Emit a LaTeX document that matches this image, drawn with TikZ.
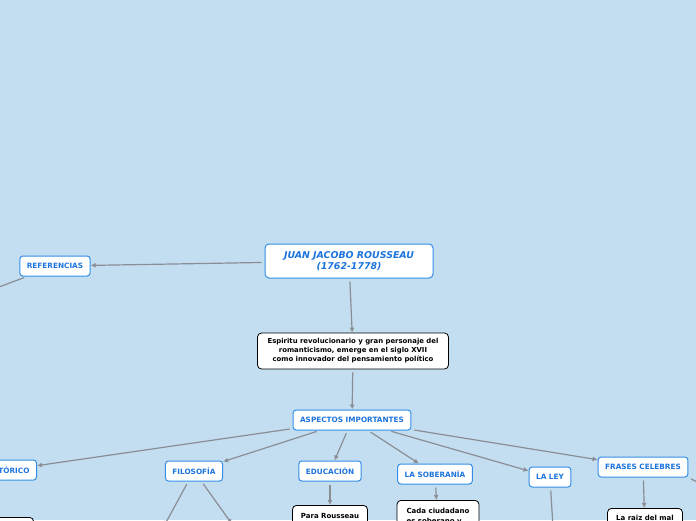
\documentclass[tikz,border=0pt]{standalone}
\usepackage{fontspec}
\setmainfont{DejaVu Sans}
\usetikzlibrary{arrows.meta, positioning}
\definecolor{mapbg}{RGB}{195,222,241}
\definecolor{mapblue}{RGB}{28,116,222}
\definecolor{mapborder}{RGB}{52,142,232}
\definecolor{mapline}{RGB}{138,142,148}

\begin{document}
\begin{tikzpicture}[x=1pt, y=-1pt,
    topicblock/.style={rectangle, draw=mapborder, line width=1pt, fill=white, rounded corners=3pt, minimum height=20pt, inner xsep=7pt, font=\bfseries\fontsize{7.3}{8.5}\selectfont, text=mapblue},
    mainblock/.style={rectangle, draw=mapborder, line width=1pt, fill=white, rounded corners=4pt, minimum width=168pt, minimum height=34pt, font=\bfseries\itshape\fontsize{9.4}{11.5}\selectfont, text=mapblue, align=center},
    noteblock/.style={rectangle, draw=black, line width=0.8pt, fill=white, rounded corners=4pt, font=\bfseries\fontsize{6.9}{9}\selectfont, align=center},
    childblock/.style={noteblock, anchor=north, font=\bfseries\fontsize{7}{9.5}\selectfont, text height=9.5pt, text depth=30pt, inner ysep=4pt},
    arrow/.style={-{Latex[length=5pt,width=5pt]}, draw=mapline, line width=1.2pt, shorten <=3pt}
]

% Background and visible window
\fill[mapbg] (0,0) rectangle (696,520);
\useasboundingbox (0,0) rectangle (696,520);
\clip (0,0) rectangle (696,520);

% Central topic and first levels
\node[mainblock] (rousseau) at (349,261) {JUAN JACOBO ROUSSEAU\\(1762-1778)};
\node[topicblock] (referencias) at (55,266) {REFERENCIAS};
\node[noteblock, minimum width=191pt, minimum height=36pt] (espiritu) at (353,351) {Espiritu revolucionario y gran personaje del\\romanticismo, emerge en el siglo XVII\\como innovador del pensamiento político};
\node[topicblock] (aspectos) at (352,420) {ASPECTOS IMPORTANTES};

% Aspects
\node[topicblock, anchor=east] (historico) at (37,470) {HISTÓRICO};
\node[topicblock] (filosofia) at (194,471) {FILOSOFÍA};
\node[topicblock] (educacion) at (330,471) {EDUCACIÓN};
\node[topicblock] (soberania) at (435,474) {LA SOBERANÍA};
\node[topicblock] (ley) at (550,477) {LA LEY};
\node[topicblock] (frases) at (643,467) {FRASES CELEBRES};

% Details, cut by the lower edge
\node[childblock, anchor=north east, minimum width=80pt] (historiconota) at (34,517) {};
\node[childblock, minimum width=75pt] (pararousseau) at (330,505) {Para Rousseau};
\node[childblock, minimum width=82pt, align=left, text height=19pt] (ciudadano) at (438,500) {Cada ciudadano\\es soberano y};
\node[childblock, minimum width=75pt, text height=8.5pt] (raiz) at (645,508) {La raiz del mal};

% Free ends outside the window
\coordinate (refout) at (-25,296);
\coordinate (filout1) at (164,526);
\coordinate (filout2) at (232,524);
\coordinate (leyout) at (553,528);
\coordinate (frasesout) at (705,486);

% Connectors
\draw[arrow] (rousseau) -- (referencias);
\draw[arrow] (referencias) -- (refout);
\draw[arrow] (rousseau) -- (espiritu);
\draw[arrow] (espiritu) -- (aspectos);
\foreach \aspecto in {historico, filosofia, educacion, soberania, ley, frases}
    \draw[arrow] (aspectos) -- (\aspecto);
\draw[arrow] (filosofia) -- (filout1);
\draw[arrow] (filosofia) -- (filout2);
\draw[arrow] (educacion) -- (pararousseau);
\draw[arrow] (soberania) -- (ciudadano);
\draw[arrow] (ley) -- (leyout);
\draw[arrow] (frases) -- (raiz);
\draw[arrow] (frases.south east) -- (frasesout);

\end{tikzpicture}
\end{document}
